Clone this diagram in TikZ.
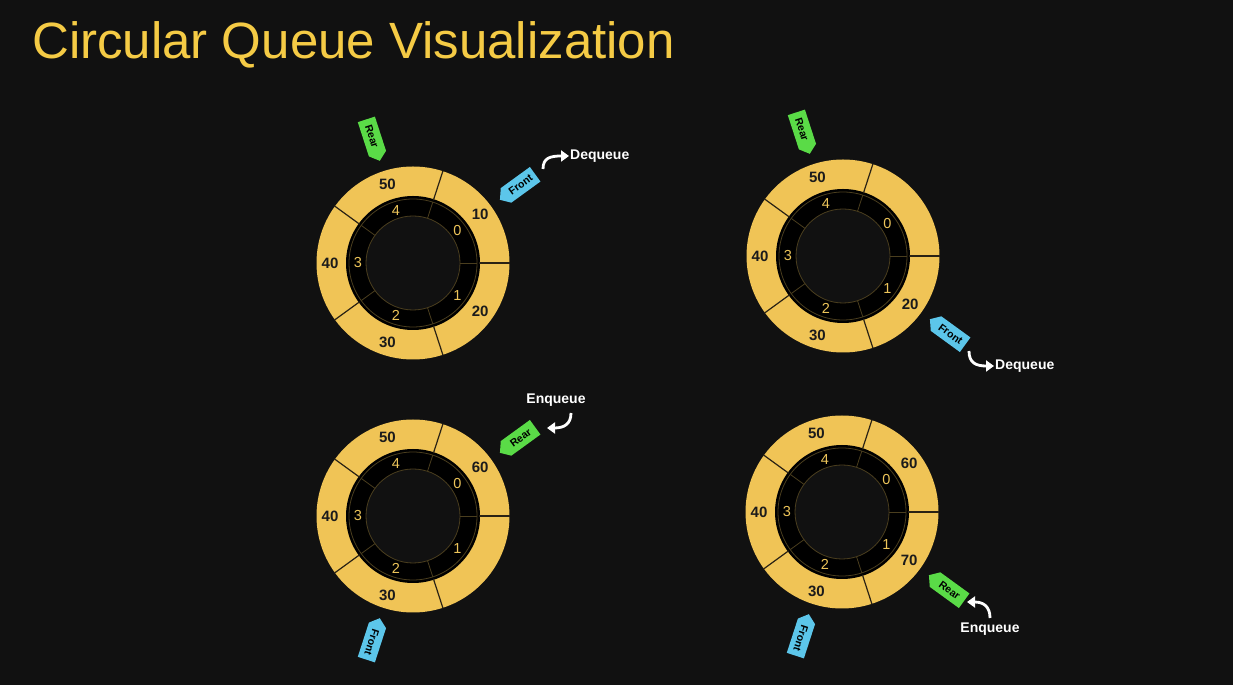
\documentclass[tikz,border=0pt]{standalone}
\usepackage{fontspec}
\setmainfont{Liberation Sans}
\newfontfamily\titlefont{Liberation Sans}
\usetikzlibrary{shapes.symbols,arrows.meta}
\definecolor{bg}{HTML}{111111}
\definecolor{ringyel}{HTML}{F0C456}
\definecolor{titleyel}{HTML}{F5CB45}
\definecolor{idxyel}{HTML}{EDC55A}
\definecolor{divline}{HTML}{2A2214}
\definecolor{idxline}{HTML}{4A3E1E}
\definecolor{taggreen}{HTML}{5ADB47}
\definecolor{tagblue}{HTML}{5CC6EA}
\definecolor{valtext}{HTML}{1B1B1B}
\tikzset{
  valnum/.style={font=\bfseries\fontsize{15}{16}\selectfont, text=valtext, inner sep=0pt},
  idxnum/.style={font=\fontsize{14.5}{15}\selectfont, text=idxyel, inner sep=0pt},
  tagshape/.style={shape=signal, signal pointer angle=100, minimum height=18pt,
    text width=32pt, align=center, inner xsep=2pt, inner ysep=0pt,
    font=\bfseries\fontsize{10.5}{11}\selectfont, text=black},
  reartag/.style={tagshape, fill=taggreen},
  fronttag/.style={tagshape, fill=tagblue},
  optext/.style={font=\bfseries\fontsize{14}{16}\selectfont, text=white, inner sep=1pt},
  oparrow/.style={draw=white, line width=2.8pt, -{Triangle[length=8pt,width=11pt]}},
}
% #1 name, #2 x, #3 y, #4..#8 values for index 0..4
\newcommand\cqring[8]{%
  \coordinate (#1) at (#2,#3);
  \fill[ringyel] (#1) circle[radius=96.5];
  \fill[black] (#1) circle[radius=67];
  \draw[idxline, line width=0.8pt] (#1) circle[radius=64];
  \fill[bg] (#1) circle[radius=47];
  \draw[idxline, line width=0.8pt] (#1) circle[radius=47];
  \foreach \ang in {0,72,144,216,288} {
    \draw[divline, line width=1.2pt] ([shift={(#1)}]\ang:66) -- ([shift={(#1)}]\ang:97);
    \draw[idxline, line width=0.8pt] ([shift={(#1)}]\ang:47) -- ([shift={(#1)}]\ang:64);
  }
  \node[valnum] (#1v0) at ([shift={(#1)}]36:83) {#4};
  \node[valnum] (#1v1) at ([shift={(#1)}]-36:83) {#5};
  \node[valnum] (#1v2) at ([shift={(#1)}]252:83) {#6};
  \node[valnum] (#1v3) at ([shift={(#1)}]180:83) {#7};
  \node[valnum] (#1v4) at ([shift={(#1)}]108:83) {#8};
  \node[idxnum] (#1i0) at ([shift={(#1)}]36:55) {0};
  \node[idxnum] (#1i1) at ([shift={(#1)}]-36:55) {1};
  \node[idxnum] (#1i2) at ([shift={(#1)}]252:55) {2};
  \node[idxnum] (#1i3) at ([shift={(#1)}]180:55) {3};
  \node[idxnum] (#1i4) at ([shift={(#1)}]108:55) {4};
}
\begin{document}
\begin{tikzpicture}[x=1pt,y=1pt]
\useasboundingbox (0,0) rectangle (1233,685);
\fill[bg] (0,0) rectangle (1233,685);
\node[anchor=base west, font=\titlefont\fontsize{51}{60}\selectfont, text=titleyel, inner sep=0pt]
  (title) at (32,626) {Circular Queue Visualization};

% ring 1
\cqring{ra}{413}{422}{10}{20}{30}{40}{50}
\node[reartag, signal to=east, rotate=-72] (raRear) at ([shift={(ra)}]108:133) {Rear};
\node[fronttag, signal to=west, rotate=36] (raFront) at ([shift={(ra)}]36:133) {Front};
\node[optext, anchor=west] (raOp) at (569,529) {Dequeue};
\coordinate (raA) at (543,516);
\draw[oparrow] (raA) .. controls (543,527) and (550,529) .. (raOp.west);

% ring 2
\cqring{rb}{843}{429}{}{20}{30}{40}{50}
\node[reartag, signal to=east, rotate=-72] (rbRear) at ([shift={(rb)}]108:133) {Rear};
\node[fronttag, signal to=west, rotate=-36] (rbFront) at ([shift={(rb)}]-36:133) {Front};
\node[optext, anchor=west] (rbOp) at (994,319) {Dequeue};
\coordinate (rbA) at (969,334);
\draw[oparrow] (rbA) .. controls (969,322) and (976,319) .. (rbOp.west);

% ring 3
\cqring{rc}{413}{169}{60}{}{30}{40}{50}
\node[reartag, signal to=west, rotate=36] (rcRear) at ([shift={(rc)}]36:133) {Rear};
\node[fronttag, signal to=west, rotate=-108] (rcFront) at ([shift={(rc)}]252:133) {Front};
\node[optext] (rcOp) at (556,285) {Enqueue};
\coordinate (rcA) at (571,272);
\coordinate (rcB) at (547,257);
\draw[oparrow] (rcA) .. controls (571,261) and (564,257) .. (rcB);

% ring 4
\cqring{rd}{842}{173}{60}{70}{30}{40}{50}
\node[reartag, signal to=west, rotate=-36] (rdRear) at ([shift={(rd)}]-36:133) {Rear};
\node[fronttag, signal to=west, rotate=-108] (rdFront) at ([shift={(rd)}]252:133) {Front};
\node[optext] (rdOp) at (990,56) {Enqueue};
\coordinate (rdA) at (990,67);
\coordinate (rdB) at (967,83);
\draw[oparrow] (rdA) .. controls (990,78) and (984,83) .. (rdB);
\end{tikzpicture}
\end{document}
